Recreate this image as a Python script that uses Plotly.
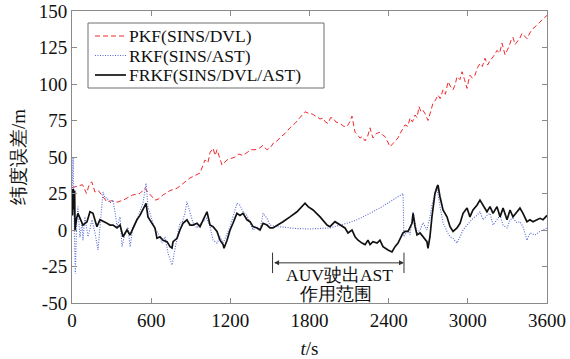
import plotly.graph_objects as go

# ---------------- data ----------------
pkf_t = [0, 40, 80, 110, 130, 150, 174, 200, 237, 263, 300, 341, 389, 425, 460, 515, 540, 553, 576, 600,
         614, 629, 652, 690, 743, 796, 841, 894, 970, 1008, 1030, 1046, 1069, 1085, 1099, 1115, 1137, 1175,
         1205, 1235, 1265, 1296, 1326, 1356, 1387, 1420, 1448, 1475, 1500, 1530, 1554, 1585, 1614, 1652,
         1690, 1728, 1766, 1790, 1804, 1830, 1857, 1880, 1902, 1920, 1940, 1960, 1978, 2000, 2031, 2060,
         2084, 2105, 2122, 2135, 2145, 2165, 2183, 2200, 2221, 2240, 2259, 2270, 2281, 2305, 2334, 2355,
         2372, 2390, 2410, 2430, 2448, 2470, 2486, 2505, 2524, 2545, 2562, 2580, 2600, 2615, 2630, 2645,
         2660, 2680, 2698, 2718, 2736, 2755, 2774, 2790, 2812, 2830, 2850, 2870, 2888, 2905, 2918, 2940,
         2956, 2975, 2994, 3005, 3016, 3035, 3054, 3072, 3092, 3110, 3130, 3150, 3168, 3195, 3221, 3240,
         3259, 3270, 3282, 3298, 3312, 3328, 3342, 3358, 3373, 3392, 3411, 3430, 3448, 3470, 3494, 3520,
         3547, 3575, 3600]
pkf_v = [29, 30, 31, 25, 31, 33, 26, 27, 22, 19.4, 20, 19, 20.5, 22, 24, 25, 27, 28.6, 26, 23,
         22, 20.5, 21, 24, 27, 28.6, 32, 35.6, 39, 48, 46, 53, 56, 51, 55, 50, 44.5, 48,
         49, 50, 52, 51, 53, 55, 55, 56, 58, 55, 56, 60, 61, 64, 66, 70,
         73, 77, 81, 80, 80, 79, 77.6, 76, 76.7, 74, 73, 77, 76.7, 74, 73, 71,
         70.8, 74, 78, 72, 67, 65, 63, 64, 61, 64, 70, 66, 63, 66, 67, 65,
         64, 61, 57, 59, 60.5, 63, 66, 69, 72, 71, 76.7, 74, 78.8, 77, 84.5, 81,
         82, 79, 75, 81, 87, 89, 92.5, 90, 96, 93, 101.6, 98, 96, 100, 105, 103,
         108.4, 103, 97, 102, 106, 104, 106, 111, 114, 112, 117.6, 113, 116, 119, 123, 121,
         128, 124, 120, 123, 125.6, 130, 132, 127, 129, 131, 134.7, 133, 131, 135, 138, 140,
         142.7, 145, 147]

rkf_t = [0, 8, 15, 25, 35, 45, 60, 76, 83, 98, 121, 152, 174, 197, 215, 227, 235, 250, 265, 288,
         311, 330, 341, 364, 379, 402, 424, 440, 462, 492, 515, 538, 561, 576, 606, 629, 652, 682,
         705, 728, 758, 781, 803, 818, 834, 856, 871, 894, 917, 947, 970, 993, 1020, 1046, 1069,
         1099, 1122, 1145, 1175, 1198, 1220, 1250, 1273, 1296, 1326, 1349, 1372, 1402, 1425, 1448,
         1478, 1500, 1550, 1600, 1652, 1700, 1804, 1900, 1955, 2031, 2100, 2160, 2220, 2281, 2350,
         2410, 2460, 2509, 2515, 2547, 2562, 2585, 2615, 2638, 2660, 2690, 2713, 2728, 2751, 2767,
         2789, 2812, 2842, 2865, 2888, 2918, 2941, 2964, 2994, 3016, 3039, 3069, 3092, 3115, 3145,
         3168, 3191, 3221, 3244, 3267, 3297, 3320, 3342, 3373, 3395, 3418, 3448, 3471, 3509, 3547,
         3600]
rkf_v = [20, 50, 10, -30, 5, 16, -5, 5, -7, 9, -4.6, 7, -2, -13.7, 5, 16, 26, 22, 22, 18.5,
         20.5, 10, 2.3, 9, -11.4, -2, 2, -11.4, 2, 7, 12.5, 18.5, 32, 16, 7, 0, -2, -9,
         -4.6, -16, -24, -13.7, -2, 5, 5, 11.4, 19.4, 11.6, 5, 1.4, 4, 5.7, 8, 2.3, -7,
         -9, -4.6, -9, -2, 2.3, 9, 18.3, 17, 12.5, 10, 5, 0, 2.3, 0, 11.4,
         8, 3.4, 2.3, 2, 1.4, 1, 0.7, 1, 1.4, 3.4, 5, 7, 9.5, 12.5, 16,
         19.4, 22, 25, -4.6, 0, -3.4, 12.5, -2, 0, 5, 0, 9, 17, 25, 28.6,
         16, 5, -1, -4.6, -5.7, -9, -4.6, 0, 3.4, 5.7, 8, 10, 12.5, 7, 10,
         11.4, 3.4, 7, 10, 3.4, 1.4, 7, 8, 5, 5.7, 2.3, -7, -2, -3.4, -1,
         1.4]

frkf_t = [0, 5, 10, 15, 20, 23, 35, 45, 61, 83, 114, 136, 159, 189, 212, 235, 265, 288, 311, 341,
          364, 387, 417, 440, 462, 492, 515, 538, 561, 576, 606, 629, 644, 667, 690, 720, 743, 758,
          766, 796, 818, 841, 871, 894, 917, 947, 970, 993, 1023, 1046, 1069, 1099, 1122, 1145,
          1152, 1175, 1198, 1220, 1250, 1273, 1296, 1326, 1349, 1372, 1402, 1425, 1448, 1478, 1500,
          1523, 1554, 1599, 1652, 1705, 1766, 1789, 1827, 1880, 1933, 1955, 1993, 2031, 2069, 2092,
          2122, 2145, 2168, 2198, 2221, 2243, 2259, 2281, 2312, 2334, 2357, 2395, 2425, 2448, 2471,
          2501, 2509, 2525, 2547, 2577, 2585, 2600, 2615, 2638, 2660, 2690, 2698, 2713, 2728, 2751,
          2767, 2774, 2789, 2812, 2842, 2865, 2888, 2918, 2941, 2964, 2994, 3016, 3039, 3069, 3092,
          3115, 3145, 3168, 3191, 3221, 3244, 3267, 3297, 3320, 3342, 3373, 3395, 3418, 3448, 3471,
          3494, 3524, 3547, 3570, 3600]
frkf_v = [28, 10, 28, 14, 27, 0, 8, 11.4, 8, 3.4, 5.7, 12.5, 11.4, 2.3, 7, 5.7, 4.6, 3.4, 3.4, 1.4,
          3.4, -4.6, 0, -3.4, 1.4, 7, 10, 13.7, 18.3, 9, 4.6, 1.4, -5.7, -4.6, -7, -8, -11.4, -12.3,
          -8, -5.7, 0, 4.6, 7, 3.4, 3.4, 4.6, 2.3, 7, 12.5, 3.4, 2.3, -1, -7, -10,
          -12.5, -7, 0, 4.6, 11.4, 10, 11.4, 7, 5.7, 2.3, 1.4, 0, 4.6, 3.4, 1.4,
          1.4, 3.4, 5.7, 9, 12.5, 18.3, 16, 13.7, 9, 3.4, 2.3, 5.7, 3.4, 1.4, -2,
          0, -4.6, -7, -9, -10, -7, -10, -8, -9, -7, -11.4, -13.7, -15, -11.4, -9,
          -3.4, -2, -1, -1, 4.6, 11.4, 2.3, -3.4, -2, -4.6, -8, -12.5, -4.6, 9, 25,
          29.7, 30.8, 22.8, 13.7, 9, 2.3, -1, 1.4, 4.6, 11.4, 15, 9, 13.7, 17, 20.5,
          17, 12.5, 16, 11.4, 16, 9, 15, 7, 13.7, 9, 12.5, 15, 11.4, 5.7, 7,
          5.7, 7, 8, 7, 10]

x_ticks = [0, 600, 1200, 1800, 2400, 3000, 3600]
y_ticks = [-50, -25, 0, 25, 50, 75, 100, 125, 150]

series_names = ["PKF(SINS/DVL)", "RKF(SINS/AST)", "FRKF(SINS/DVL/AST)"]
series_colors = ["#f0282d", "#5468d4", "#111111"]
series_dash = ["5px,3px", "1px,1.5px", "solid"]
series_width = [1, 1.1, 1.7]
region_start, region_end = 1520, 2516   # AUV out of AST range
region_y = -22.5
region_text = ["AUV驶出AST", "作用范围"]

FONT = "Liberation Serif"
FS = 19
FS_SMALL = 17.5

fig = go.Figure()
for t, v, name, c, d, w in zip([pkf_t, rkf_t, frkf_t], [pkf_v, rkf_v, frkf_v], series_names,
                               series_colors, series_dash, series_width):
    fig.add_trace(go.Scatter(x=t, y=v, mode="lines", name=name, showlegend=False,
                             line=dict(color=c, width=w, dash=d)))

# ---- legend box drawn in paper coordinates ----
def px_x(px):
    return (px - 72) / 475.0

def px_y(py):
    return (303 - py) / 292.0

fig.add_shape(type="rect", xref="paper", yref="paper", x0=px_x(88), x1=px_x(324),
              y0=px_y(88), y1=px_y(23), line=dict(color="#6e6e6e", width=1), fillcolor="white",
              layer="above")
for i, (name, c, d, w) in enumerate(zip(series_names, series_colors, series_dash, series_width)):
    ry = 36 + i * 19.5
    fig.add_shape(type="line", xref="paper", yref="paper", x0=px_x(95), x1=px_x(126),
                  y0=px_y(ry), y1=px_y(ry), line=dict(color=c, width=w, dash=d), layer="above")
    fig.add_annotation(xref="paper", yref="paper", x=px_x(127), y=px_y(ry), xanchor="left",
                       yanchor="middle", text=name, showarrow=False,
                       font=dict(family=FONT, size=FS_SMALL, color="#111111"))

# range marker: vertical bars at the ends + double-headed arrow
for xe in (region_start, region_end):
    fig.add_shape(type="line", xref="x", yref="y", x0=xe, x1=xe, y0=region_y - 7, y1=region_y + 7,
                  line=dict(color="#333333", width=1))
fig.add_annotation(x=region_end, y=region_y, ax=region_start, ay=region_y, xref="x", yref="y",
                   axref="x", ayref="y", showarrow=True, arrowhead=2, arrowside="end+start",
                   arrowsize=1, arrowwidth=1, arrowcolor="#333333", text="")
for txt, yy, xc in zip(region_text, [-30.5, -44.0], [2030, 2000]):
    fig.add_annotation(x=xc, y=yy, xref="x", yref="y",
                       yanchor="middle", text=txt, showarrow=False,
                       font=dict(family=FONT, size=FS_SMALL, color="#111111"))

axis_common = dict(showline=True, linecolor="#8a8a8a", linewidth=1, mirror="ticks",
                   ticks="inside", ticklen=5, tickcolor="#8a8a8a", showgrid=False, zeroline=False,
                   automargin=False,
                   tickfont=dict(family=FONT, size=FS, color="#111111"))
fig.update_xaxes(range=[0, 3600], tickvals=x_ticks, ticktext=[str(v) for v in x_ticks],
                 title=dict(text="<i>t</i>/s", font=dict(family=FONT, size=FS, color="#111111"), standoff=13),
                 **axis_common)
fig.update_yaxes(range=[-50, 150], tickvals=y_ticks, ticktext=[str(v) for v in y_ticks],
                 title=dict(text="纬度误差/m", font=dict(family=FONT, size=FS, color="#111111"), standoff=8),
                 **axis_common)

fig.update_layout(
    width=570, height=359,
    margin=dict(l=72, r=23, t=11, b=56),
    paper_bgcolor="white", plot_bgcolor="white",
    font=dict(family=FONT),
    showlegend=False,
)

fig.write_html("out.html")
